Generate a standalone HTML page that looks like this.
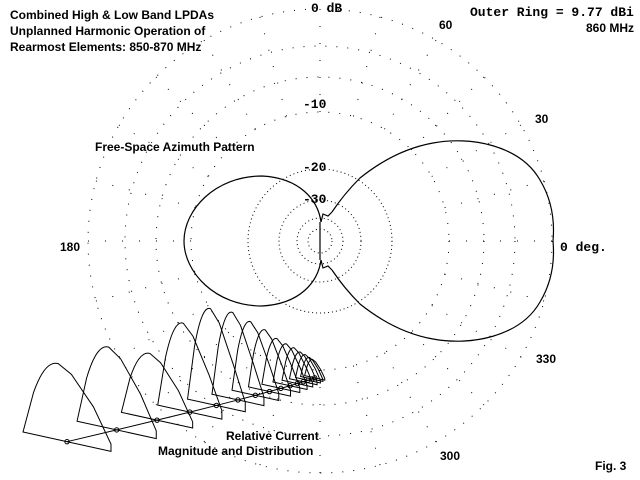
<!DOCTYPE html>
<html><head><meta charset="utf-8"><style>
html,body{margin:0;padding:0;background:#fff;}
svg{display:block}
.s{font-family:"Liberation Sans",Arial,sans-serif;font-weight:bold;font-size:12px;fill:#000}
.m{font-family:"Liberation Mono",monospace;font-weight:bold;font-size:13px;fill:#000}
</style></head><body>
<svg id="g" width="640" height="480" viewBox="0 0 640 480" xmlns="http://www.w3.org/2000/svg">
<rect width="640" height="480" fill="#fff"/>
<g id="grid" fill="none" stroke="#000" stroke-width="1"></g>
<g fill="none" stroke="#000" stroke-width="1.2">
<path d="M332,212 C340,200 350,188 360,178 C380,162 405,148 433,143 C470,136 520,145 540,180 C555,205 554,230 553,241 C554,252 555,277 540,302 C520,337 470,346 433,339 C405,334 380,320 360,304 C350,294 340,282 332,270"/>
<path d="M332,212 L328,216 L323,214 L321,222 M332,270 L328,266 L323,268 L321,260"/>
<path d="M321,222 C318,200 300,178 262,176 C215,176 184,210 184,241 C184,272 215,306 262,306 C300,304 318,282 321,260"/>
<path d="M320,222 L320,260"/>
</g>
<g id="cur" fill="none" stroke="#000" stroke-width="1"></g>
<text class="s" x="10" y="19">Combined High &amp; Low Band LPDAs</text>
<text class="s" x="10" y="35">Unplanned Harmonic Operation of</text>
<text class="s" x="10" y="51">Rearmost Elements:  850-870 MHz</text>
<text class="s" x="95" y="151">Free-Space Azimuth Pattern</text>
<text class="s" x="226" y="440">Relative Current</text>
<text class="s" x="158" y="455">Magnitude and Distribution</text>
<text class="s" x="595" y="470">Fig. 3</text>
<text class="m" x="311" y="12">0 dB</text>
<text class="m" x="470" y="16">Outer Ring = 9.77 dBi</text>
<text class="s" x="634" y="32" text-anchor="end">860 MHz</text>
<text class="s" x="439" y="29">60</text>
<text class="s" x="535" y="123">30</text>
<text class="m" x="560" y="251">0 deg.</text>
<text class="s" x="536" y="363">330</text>
<text class="s" x="440" y="460">300</text>
<text class="s" x="60" y="251">180</text>
<text class="m" x="303" y="108">-10</text>
<text class="m" x="303" y="171">-20</text>
<text class="m" x="303" y="203">-30</text>
</svg>
<script>
var NS="http://www.w3.org/2000/svg",cx=320,cy=241;
var g=document.getElementById("grid");
function el(p,n,a){var e=document.createElementNS(NS,n);for(var k in a)e.setAttribute(k,a[k]);p.appendChild(e);return e;}
[232,195,164,129,72,41,23,12].forEach(function(r){el(g,"circle",{cx:cx,cy:cy,r:r,"stroke-dasharray":"1 "+(r>100?10:3)});});
for(var a=0;a<360;a+=15){var t=a*Math.PI/180;
 el(g,"line",{x1:cx+129*Math.cos(t),y1:cy-129*Math.sin(t),x2:cx+232*Math.cos(t),y2:cy-232*Math.sin(t),"stroke-dasharray":"1 16"});}
var c=document.getElementById("cur");
var H=[72,78,62,86,95,86,72,60,48,40,34,28,24,20,17];
var pts=[];
for(var k=0;k<15;k++){
 var f=(1-Math.pow(0.82,k))/(1-Math.pow(0.82,15));
 var ax=23+285*f, ay=432-0.2*(ax-23);
 var w=88*Math.pow(0.9,k), h=H[k];
 var bx=ax+w, by=ay+0.22*w;
 var d="M"+ax+","+ay+" L"+(ax+0.12*w)+","+(ay-0.55*h)+" Q"+(ax+0.25*w)+","+(ay-h)+" "+(ax+0.4*w)+","+(ay-0.95*h)+
  " L"+(ax+0.55*w)+","+(ay-0.8*h)+" L"+(ax+0.8*w)+","+(ay-0.35*h)+" L"+bx+","+(by-0.1*h)+" L"+bx+","+by+" Z";
 el(c,"path",{d:d});
 var mx=ax+0.5*w,my=ay+0.11*w;pts.push(mx+","+my);
 el(c,"circle",{cx:mx,cy:my,r:2.2});
}
el(c,"polyline",{points:pts.join(" ")});
</script>
</body></html>
